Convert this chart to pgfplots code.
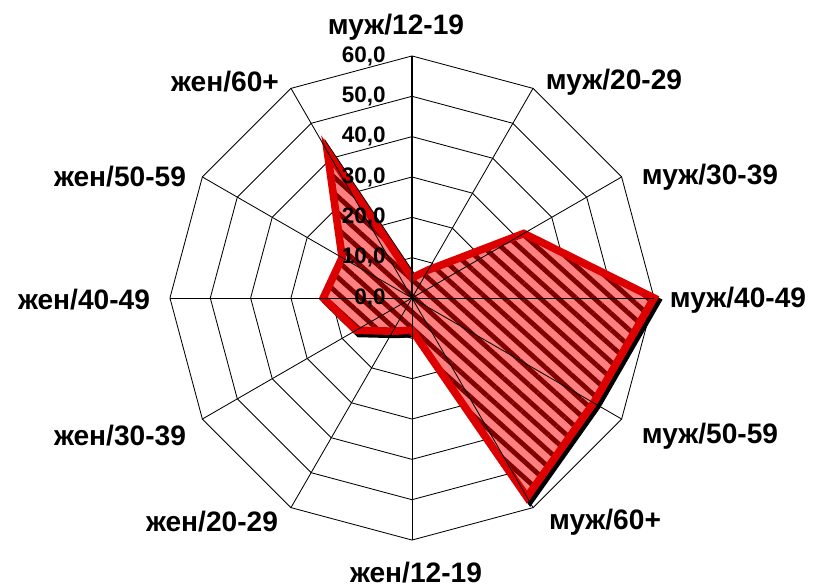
\documentclass[border=0pt]{standalone}
\usepackage{pgfplots}
\pgfplotsset{compat=1.18}
\usepgfplotslibrary{polar}
\usetikzlibrary{patterns.meta}
\usepackage{fontspec}
\setmainfont{Liberation Sans}
\definecolor{outl}{RGB}{220,0,0}
\definecolor{fillp}{RGB}{255,128,128}
\definecolor{stripe}{RGB}{128,0,0}
\pgfplotstableread{
ang val
90   5
60   8
30   32
0    60
-30  52
-60  57
-90  8
-120 9.5
-150 16
-180 22
-210 20
-240 42
}\radar
\begin{document}
\begin{tikzpicture}
\useasboundingbox (0,0) rectangle ({821*0.025},{-587*0.025});
\begin{polaraxis}[
    at={({412*0.025cm},{-298*0.025cm})}, anchor=center,
    scale only axis, width=12.1cm, height=12.1cm,
    ymin=0, ymax=60,
    hide axis, clip=false,
  ]
  % rings
  \pgfplotsinvokeforeach{10,20,...,60}{
    \addplot[black, line width=0.6pt, mark=none] coordinates {
      (90,#1) (60,#1) (30,#1) (0,#1) (-30,#1) (-60,#1)
      (-90,#1) (-120,#1) (-150,#1) (-180,#1) (-210,#1) (-240,#1)
    } -- cycle;
  }
  % shadow
  \addplot[draw=black, fill=black, line width=0.19cm, mark=none,
    transform canvas={xshift=0.08cm, yshift=-0.08cm}]
    table[x=ang, y=val] {\radar} -- cycle;
  % fill
  \addplot[draw=none, fill=fillp, mark=none] table[x=ang, y=val] {\radar} -- cycle;
  % stripes
  \addplot[draw=none, mark=none, pattern={Lines[angle=-42, distance=0.3cm, line width=0.12cm]}, pattern color=stripe]
    table[x=ang, y=val] {\radar} -- cycle;
  % outline
  \addplot[draw=outl, line width=0.19cm, mark=none] table[x=ang, y=val] {\radar} -- cycle;
  % spokes
  \pgfplotsinvokeforeach{60,30,0,-30,-60,-90,-120,-150,-180,-210,-240}{
    \addplot[black, line width=0.6pt, mark=none] coordinates {(#1,0) (#1,60)};
  }
  \addplot[black, line width=1.4pt, mark=none] coordinates {(90,0) (90,60)};
  \pgfplotsinvokeforeach{0,10,...,60}{
    \node[anchor=east, inner sep=0pt, xshift=-0.65cm,
      font=\bfseries\fontsize{16}{18}\selectfont] at (axis cs:90,#1) {#1,0};
  }
\end{polaraxis}
\begin{scope}[every node/.style={font=\bfseries\fontsize{20}{24}\selectfont}]
\node at ({396*0.025},{-27*0.025}) {муж/12-19};
\node at ({614*0.025},{-82*0.025}) {муж/20-29};
\node at ({710*0.025},{-177*0.025}) {муж/30-39};
\node at ({738*0.025},{-300*0.025}) {муж/40-49};
\node at ({710*0.025},{-436*0.025}) {муж/50-59};
\node at ({605*0.025},{-522*0.025}) {муж/60+};
\node at ({416*0.025},{-573*0.025}) {жен/12-19};
\node at ({212*0.025},{-522*0.025}) {жен/20-29};
\node at ({120*0.025},{-436*0.025}) {жен/30-39};
\node at ({84*0.025},{-300*0.025}) {жен/40-49};
\node at ({120*0.025},{-177*0.025}) {жен/50-59};
\node at ({225*0.025},{-82*0.025}) {жен/60+};
\end{scope}
\end{tikzpicture}
\end{document}
